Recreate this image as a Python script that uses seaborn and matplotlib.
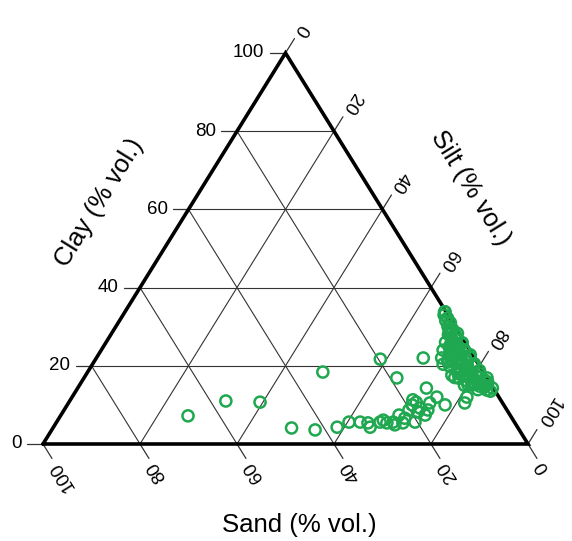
import numpy as np
import matplotlib
matplotlib.use("Agg")
import matplotlib.pyplot as plt
import seaborn as sns
import pandas as pd

# ---- data (percent by volume) ----
sand_pct = [66.5, 56.8, 49.9, 33.1, 46.7, 42.1, 37.2, 34.1, 31.8, 30.3, 30.4, 19.6,
            27.7, 26.8, 25.0, 23.1, 20.5, 18.1, 18.9, 17.7, 17.5, 20.2, 18.6, 22.1,
            18.6, 10.6, 13.8, 12.8, 12.1, 7.8, 6.6, 1.6, 0.0, 4.0, 6.9, 6.0, 3.4, 0.2,
            22.9, 16.3, 25.0, 26.4, 15.0, 17.7,
            0.3, 0.8, 0.5, 1.2, 0.7, 1.5, 0.9, 1.8, 1.0, 2.2, 1.4, 2.6, 0.8, 3.0, 1.9,
            3.5, 1.2, 4.2, 2.5, 5.0, 0.9, 3.6, 5.8, 2.1, 4.4, 1.3, 6.2, 3.0, 4.9, 0.6,
            2.4, 5.4, 3.8, 1.5, 6.6, 2.8, 4.6, 0.4, 3.3, 5.6, 1.6, 0.2, 5.5, 4.0, 6.8, 7.3,
            0.5, 1.0, 0.4, 1.6, 0.6, 2.0, 1.1, 2.8, 0.5, 1.8, 3.0, 4.0, 0.8, 2.5, 3.5,
            5.2, 1.0, 2.0, 4.2, 5.8, 0.8, 3.6, 2.2, 4.8, 1.2, 2.6, 3.4, 1.0, 4.4, 2.9,
            5.0, 4.6, 3.9, 2.4, 1.7, 2.4]
clay_pct = [7.2, 11.0, 10.7, 18.4, 4.1, 3.6, 4.3, 5.6, 5.6, 5.4, 4.3, 21.7,
            5.6, 6.1, 5.6, 5.4, 5.6, 11.3, 10.0, 9.2, 7.4, 8.7, 8.2, 6.6,
            16.9, 22.0, 14.3, 12.0, 10.0, 10.5, 12.0, 13.8, 16.9, 15.1, 17.6, 21.0, 25.3, 33.8,
            7.4, 8.7, 4.9, 5.4, 10.5, 10.7,
            33.8, 33.0, 32.2, 31.5, 30.8, 30.0, 29.3, 28.6, 28.0, 27.3, 26.8, 26.2, 25.7, 25.2, 24.8,
            24.3, 23.9, 23.5, 23.0, 22.6, 22.2, 21.8, 21.4, 21.0, 20.6, 20.2, 19.8, 19.5, 19.1, 18.8,
            18.4, 18.0, 17.7, 17.3, 17.0, 16.6, 16.2, 15.8, 15.4, 15.0, 14.6, 14.3, 24.0, 26.0, 22.0, 20.4,
            31.0, 29.6, 28.3, 27.0, 25.9, 25.0, 24.1, 23.3, 22.8, 22.4, 21.6, 20.9, 20.5, 20.0, 19.0,
            18.5, 18.0, 17.2, 17.4, 16.8, 16.4, 16.0, 15.5, 15.2, 15.0, 14.8, 13.9, 13.5, 19.8, 18.6,
            21.2, 23.0, 24.6, 26.5, 29.0, 28.0]
silt_pct = [100 - s - c for s, c in zip(sand_pct, clay_pct)]

tick_values = [0, 20, 40, 60, 80, 100]
tick_labels = ["0", "20", "40", "60", "80", "100"]
grid_values = [20, 40, 60, 80]
axis_titles = {"clay": "Clay (% vol.)", "silt": "Silt (% vol.)", "sand": "Sand (% vol.)"}

sns.set_theme(style="white")
plt.rcParams['font.family'] = ['Liberation Sans', 'DejaVu Sans']
plt.rcParams['text.color'] = 'black'

W, H = 572, 541
fig = plt.figure(figsize=(W / 100, H / 100), dpi=100)
L, R, T, B = 43, 528, 53, 444
tw, th = R - L, B - T
ax = fig.add_axes([L / W, (H - B) / H, tw / W, th / H])
ax.set_xlim(0, 1)
ax.set_ylim(0, 1)


def tern(sand, silt, clay):
    silt = np.asarray(silt, float) / 100
    clay = np.asarray(clay, float) / 100
    return silt + clay / 2, clay


def off(p, u, d):
    # offset point p (data) by d pixels along unit pixel direction u
    return p[0] + u[0] * d / tw, p[1] + u[1] * d / th


grid_kw = dict(color="#333333", lw=0.8, zorder=1)
for g in grid_values:
    f = g / 100
    ax.plot([f / 2, 1 - f / 2], [f, f], **grid_kw)              # constant clay
    ax.plot([1 - f, (1 - f) / 2], [0, 1 - f], **grid_kw)        # constant sand
    ax.plot([f, f + (1 - f) / 2], [0, 1 - f], **grid_kw)        # constant silt

ax.plot([0, 1, 0.5, 0], [0, 0, 1, 0], color="black", lw=2.6,
        solid_joinstyle="miter", clip_on=False, zorder=3)

tick_kw = dict(color="#333333", lw=0.9, clip_on=False, zorder=2)
fs_tick = 13.5

# clay ticks (left, horizontal)
for v, lab in zip(tick_values, tick_labels):
    p = (v / 200, v / 100)
    e = off(p, (-1, 0), 16)
    ax.plot([p[0], e[0]], [p[1], e[1]], **tick_kw)
    tp = off(p, (-1, 0), 21)
    ax.text(tp[0], tp[1], lab, ha="right", va="center", fontsize=fs_tick, color="black")

# sand ticks (bottom, down-right)
u = np.array([0.5 * tw, -th]); u = u / np.hypot(*u)
ang_u = np.degrees(np.arctan2(u[1], u[0]))
for v, lab in zip(tick_values, tick_labels):
    p = (1 - v / 100, 0)
    e = off(p, u, 17)
    ax.plot([p[0], e[0]], [p[1], e[1]], **tick_kw)
    tp = off(p, u, 22)
    ax.text(tp[0], tp[1], lab, ha="right", va="center", rotation=ang_u + 180,
            rotation_mode="anchor", fontsize=fs_tick, color="black")

# silt ticks (right, up-right)
w = np.array([0.5 * tw, th]); w = w / np.hypot(*w)
ang_w = np.degrees(np.arctan2(w[1], w[0]))
for v, lab in zip(tick_values, tick_labels):
    p = ((1 + v / 100) / 2, 1 - v / 100)
    e = off(p, w, 17)
    ax.plot([p[0], e[0]], [p[1], e[1]], **tick_kw)
    tp = off(p, w, 22)
    ax.text(tp[0], tp[1], lab, ha="right", va="center", rotation=ang_w - 180,
            rotation_mode="anchor", fontsize=fs_tick, color="black")

x, y = tern(sand_pct, silt_pct, clay_pct)
df = pd.DataFrame({"x": x, "y": y})
sns.scatterplot(data=df, x="x", y="y", ax=ax, marker="o", s=64,
                facecolor="none", edgecolor="#1fa84f", linewidth=1.8,
                clip_on=False, zorder=5, legend=False)
ax.axis("off")

fs_title = 18.5
fig.text(99 / W, 1 - 203 / H, axis_titles["clay"], rotation=ang_w, ha="center",
         va="center", fontsize=fs_title, rotation_mode="anchor", color="black")
fig.text(471 / W, 1 - 188 / H, axis_titles["silt"], rotation=-ang_w, ha="center",
         va="center", fontsize=fs_title, rotation_mode="anchor", color="black")
fig.text(299 / W, 1 - 525 / H, axis_titles["sand"], ha="center", va="center",
         fontsize=fs_title, color="black")

fig.savefig("out.png", dpi=100)
